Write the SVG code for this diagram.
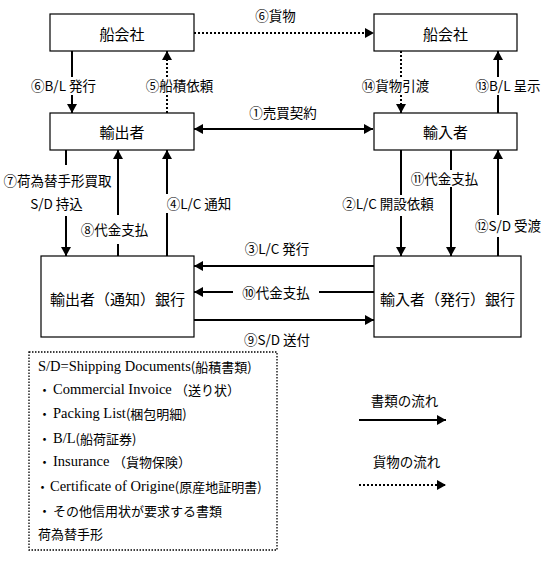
<svg xmlns="http://www.w3.org/2000/svg" width="557" height="570" viewBox="0 0 557 570">
<defs>
<marker id="ah" markerUnits="userSpaceOnUse" markerWidth="9" markerHeight="10" refX="9" refY="5" orient="auto-start-reverse" viewBox="0 0 9 10">
<path d="M0,0 L9,5 L0,10 z" fill="#000"/>
</marker>
<style>
.box{fill:#fff;stroke:#000;stroke-width:1.2}
.nt{font-family:"Noto Sans CJK JP",sans-serif;font-size:15px;text-anchor:middle;dominant-baseline:central;fill:#000}
.lb{font-family:"Noto Sans CJK JP",sans-serif;font-size:13.5px;text-anchor:middle;dominant-baseline:central;fill:#000}
.sl{fill:none;stroke:#000;stroke-width:2}
.dl{fill:none;stroke:#000;stroke-width:2;stroke-dasharray:2,2}
.lg{font-family:"Noto Sans CJK JP",sans-serif;font-size:13px;dominant-baseline:central;fill:#000}
.la{font-family:"Liberation Serif",serif;font-size:14.5px}
</style>
</defs>
<rect width="557" height="570" fill="#fff"/>

<g id="ship-left"><rect class="box" x="50" y="14" width="144" height="37"/><text class="nt" x="122" y="33">船会社</text></g>
<g id="ship-right"><rect class="box" x="374" y="14" width="143" height="37"/><text class="nt" x="445.5" y="33">船会社</text></g>
<g id="exporter"><rect class="box" x="50" y="113" width="144" height="37"/><text class="nt" x="122" y="131.5">輸出者</text></g>
<g id="importer"><rect class="box" x="374" y="113" width="143" height="37"/><text class="nt" x="445.5" y="131.5">輸入者</text></g>
<g id="exp-bank"><rect class="box" x="41" y="256" width="153" height="81"/><text class="nt" x="117.5" y="298" font-size="14.5">輸出者（通知）銀行</text></g>
<g id="imp-bank"><rect class="box" x="374" y="256" width="147" height="81"/><text class="nt" x="447.5" y="298" font-size="14.5">輸入者（発行）銀行</text></g>

<g id="connectors">
<path class="dl" d="M194,33 H374" marker-end="url(#ah)"/>
<path class="sl" d="M194,129 H373" stroke-width="2.5" marker-start="url(#ah)" marker-end="url(#ah)"/>
<path class="sl" d="M72,51 V77"/><path class="sl" d="M72,95 V113" marker-end="url(#ah)"/>
<path class="dl" d="M167,113 V95"/><path class="dl" d="M167,77 V51" marker-end="url(#ah)"/>
<path class="dl" d="M401,51 V77"/><path class="dl" d="M401,95 V113" marker-end="url(#ah)"/>
<path class="sl" d="M498,113 V95"/><path class="sl" d="M498,77 V51" marker-end="url(#ah)"/>
<path class="sl" d="M66,150 V165"/><path class="sl" d="M66,216 V256" marker-end="url(#ah)"/>
<path class="sl" d="M118,256 V244"/><path class="sl" d="M118,215 V150" marker-end="url(#ah)"/>
<path class="sl" d="M167,256 V213"/><path class="sl" d="M167,194 V150" marker-end="url(#ah)"/>
<path class="sl" d="M401,150 V195"/><path class="sl" d="M401,216 V256" marker-end="url(#ah)"/>
<path class="sl" d="M451,150 V170"/><path class="sl" d="M451,187 V256" marker-end="url(#ah)"/>
<path class="sl" d="M498,256 V237"/><path class="sl" d="M498,215 V150" marker-end="url(#ah)"/>
<path class="sl" d="M374,266 H194" marker-end="url(#ah)"/>
<path class="sl" d="M374,292 H319"/><path class="sl" d="M233,292 H194" marker-end="url(#ah)"/>
<path class="sl" d="M194,320 H374" marker-end="url(#ah)"/>
</g>

<g id="labels">
<text class="lb" x="275.5" y="15">⑥貨物</text>
<text class="lb" x="283" y="112">①売買契約</text>
<text class="lb" x="63.5" y="85">⑥B/L 発行</text>
<text class="lb" x="179.5" y="85">⑤船積依頼</text>
<text class="lb" x="395.5" y="85">⑭貨物引渡</text>
<text class="lb" x="508" y="85">⑬B/L 呈示</text>
<text class="lb" x="57.5" y="180" font-size="13">⑦荷為替手形買取</text>
<text class="lb" x="56.5" y="203" font-size="13">S/D 持込</text>
<text class="lb" x="114.5" y="229">⑧代金支払</text>
<text class="lb" x="199" y="203" font-size="15">④L/C 通知</text>
<text class="lb" x="388" y="203">②L/C 開設依頼</text>
<text class="lb" x="444.5" y="178">⑪代金支払</text>
<text class="lb" x="508" y="225">⑫S/D 受渡</text>
<text class="lb" x="277" y="248">③L/C 発行</text>
<text class="lb" x="276" y="292">⑩代金支払</text>
<text class="lb" x="277" y="339">⑨S/D 送付</text>
</g>

<g id="sd-box">
<rect x="29" y="352" width="248" height="198" fill="none" stroke="#000" stroke-width="1.3" stroke-dasharray="1.5,1.5"/>
<text class="lg" x="38" y="366"><tspan class="la">S/D=Shipping Documents</tspan>(船積書類)</text>
<text class="lg" x="38" y="389">・<tspan class="la" x="53">Commercial Invoice</tspan><tspan x="175">（送り状）</tspan></text>
<text class="lg" x="38" y="413">・<tspan class="la" x="53">Packing List</tspan>(梱包明細)</text>
<text class="lg" x="38" y="438">・<tspan class="la" x="53">B/L</tspan>(船荷証券)</text>
<text class="lg" x="38" y="461">・<tspan class="la" x="53">Insurance</tspan><tspan x="113">（貨物保険）</tspan></text>
<text class="lg" x="36" y="486">・<tspan class="la" x="50">Certificate of Origine</tspan>(原産地証明書)</text>
<text class="lg" x="38" y="510">・<tspan x="53">その他信用状が要求する書類</tspan></text>
<text class="lg" x="38" y="533">荷為替手形</text>
</g>

<g id="legend">
<text class="lb" x="404.5" y="400" font-size="14">書類の流れ</text>
<path class="sl" d="M359,420 H446" marker-end="url(#ah)"/>
<text class="lb" x="406.5" y="461" font-size="14">貨物の流れ</text>
<path class="dl" d="M359,485 H446" marker-end="url(#ah)"/>
</g>
</svg>
